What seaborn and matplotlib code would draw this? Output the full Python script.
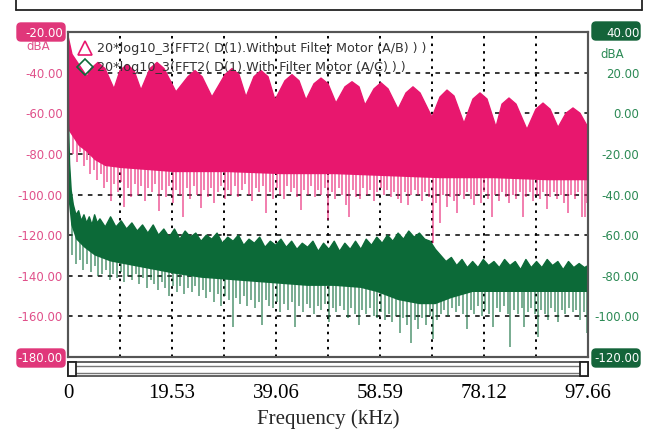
import numpy as np
import pandas as pd
import matplotlib
matplotlib.use("Agg")
import matplotlib.pyplot as plt
import seaborn as sns
from matplotlib.patches import Rectangle, FancyBboxPatch
from matplotlib.lines import Line2D
from matplotlib.transforms import IdentityTransform

# ---- data (kHz / dBA) ----
# pink: without filter (left axis), upper envelope with the scallops
pink_top_f = [0, 0.75, 3.57, 4.32, 5.63, 6.95, 8.64, 9.77, 11.08, 12.40, 13.71, 15.40,
              16.72, 18.03, 20.28, 22.54, 23.85, 25.17, 27.04, 29.49, 30.80, 32.12,
              33.43, 34.93, 36.25, 37.56, 38.88, 40.75, 42.07, 43.38, 44.70, 46.20,
              47.52, 48.83, 50.33, 52.02, 53.34, 54.65, 55.78, 57.47, 58.78, 60.10,
              61.98, 63.48, 64.79, 66.11, 68.36, 69.87, 71.18, 72.49, 74.37, 76.06,
              77.38, 78.69, 80.38, 81.51, 82.82, 84.14, 86.20, 87.89, 89.21, 90.53,
              92.03, 93.53, 94.84, 96.16, 97.66]
pink_top = [-22, -31, -42, -38, -35, -38, -48, -39, -36, -39, -48.6, -38,
            -35, -38, -49.5, -42, -39, -42, -52, -41, -38, -41,
            -52, -42, -39, -42, -53.5, -44, -41, -44, -53.5, -45.5,
            -42.7, -45.5, -55, -47, -44.5, -47, -56, -48, -45, -48,
            -58, -50, -47, -50, -62, -52, -48.6, -51.5, -65, -53,
            -50, -53, -66.8, -55.5, -52.5, -55.5, -68, -58, -55, -58,
            -67, -60, -57.4, -60, -67]
# pink: lower edge of the solid band
pink_low_f = [0, 1, 2, 3.5, 5, 7, 10, 15, 20, 30, 40, 50, 60, 70, 80, 90, 97.66]
pink_low = [-68, -72, -76, -79, -83, -86, -87, -88, -89, -89, -90, -90, -91, -92, -92, -93, -93]
# pink: downward spikes under the band
pink_spike_f = [0.9, 1.6, 2.3, 3.0, 3.6, 4.2, 4.9, 5.5, 6.2, 6.8, 7.4, 8.1, 8.7, 9.3, 10.0,
                10.6, 11.2, 11.9, 12.5, 13.2, 13.8, 14.5, 15.1, 15.8, 16.4, 17.1, 17.7,
                18.4, 19.0, 19.7, 20.3, 21.0, 21.6, 22.3, 22.9, 23.6, 24.2, 24.9, 25.5,
                26.2, 26.8, 27.5, 28.1, 28.8, 29.4, 30.1, 30.7, 31.4, 32.0, 32.7, 33.3,
                34.0, 34.6, 35.3, 35.9, 36.6, 37.2, 37.9, 38.5, 39.2, 39.8, 40.5, 41.1,
                41.8, 42.4, 43.1, 43.7, 44.4, 45.0, 45.7, 46.3, 47.0, 47.6, 48.3, 48.9,
                49.6, 50.2, 50.9, 51.5, 52.2, 52.8, 53.5, 54.1, 54.8, 55.4, 56.1, 56.7,
                57.4, 58.0, 58.7, 59.3, 60.0, 60.6, 61.3, 61.9, 62.6, 63.2, 63.9, 64.5,
                65.2, 65.8, 66.5, 67.1, 67.8, 68.5, 69.1, 69.8, 70.4, 71.1, 71.7, 72.4,
                73.0, 73.7, 74.3, 75.0, 75.6, 76.3, 76.9, 77.6, 78.2, 78.9, 79.6, 80.2,
                80.9, 81.5, 82.2, 82.8, 83.5, 84.1, 84.8, 85.4, 86.1, 86.7, 87.4, 88.0,
                88.7, 89.3, 90.0, 90.6, 91.3, 91.9, 92.6, 93.2, 93.9, 94.5, 95.2, 95.8,
                96.5, 97.1, 97.5]
pink_spike = [-80, -84, -79, -86, -83, -90, -88, -93, -90, -97, -94, -103, -95, -99, -94,
              -106, -97, -101, -95, -100, -96, -103, -97, -99, -95, -108, -98,
              -101, -96, -104, -98, -100, -111, -97, -102, -96, -100, -106.7, -98,
              -101, -97, -104, -99, -96, -102, -98, -100, -96, -101, -98, -95,
              -100, -103, -97, -99, -96, -109, -99, -102, -97, -100, -102, -96,
              -99, -97, -101, -107.5, -98, -100, -96, -101, -98, -100, -97, -112.6,
              -99, -102, -97, -100, -105, -111, -98, -101, -102, -97, -100, -98,
              -103, -99, -97, -100, -98, -101, -99, -102, -104, -99, -105, -100,
              -98, -100, -103, -99, -101, -124, -104, -114, -100, -106, -101, -103,
              -109, -100, -102, -99, -102, -105, -100, -104, -99, -102, -111, -100,
              -103, -99, -101, -104, -100, -102, -99, -111, -101, -99, -103, -100,
              -102, -99, -107, -101, -99, -102, -100, -104, -109, -100, -102, -99,
              -111, -111, -104]

# green: with filter (right axis), upper edge
green_top_f = [0, 0.1, 0.3, 0.6, 1.0, 1.5, 2.0, 2.5, 3.0, 3.5, 4.0, 4.5, 5.0, 5.5, 6.0,
               7, 8, 9, 10, 11, 12, 13, 14, 15, 16, 17, 18, 19, 20, 21, 22, 23, 24, 25,
               26, 27, 28, 29, 30, 31, 32, 33, 34, 35, 36, 37, 38, 39, 40, 41, 42, 43,
               44, 45, 46, 47, 48, 49, 50, 51, 52, 53, 54, 55, 56, 57, 58, 59, 60, 61,
               62, 63, 64, 65, 66, 67, 68, 69, 70, 71, 72, 73, 74, 75, 76, 77, 78, 79,
               80, 81, 82, 83, 84, 85, 86, 87, 88, 89, 90, 91, 92, 93, 94, 95, 96, 97,
               97.66]
green_top = [40, -5, -25, -38, -45, -50, -48, -53, -50, -54, -51, -55, -50, -54, -52,
             -56, -51, -56, -53, -57, -54, -58, -55, -59, -55, -60, -57, -61, -57, -62,
             -58, -61, -59, -63, -60, -62, -59, -64, -61, -63, -60, -65, -62, -64, -61,
             -66, -63, -65, -62, -66, -63, -67, -64, -66, -63, -68, -64, -67, -63, -68,
             -64, -67, -63, -67, -62, -65, -61, -64, -60, -63, -59, -62, -58, -61, -59,
             -62, -63, -67, -70, -73, -71, -75, -72, -76, -73, -76, -72, -75, -73, -76,
             -72, -75, -73, -77, -72, -76, -73, -76, -72, -75, -73, -77, -73, -76, -74,
             -76, -75]
green_low_f = [0, 0.6, 1.5, 3, 5, 8, 12, 16, 20, 25, 30, 35, 40, 45, 50, 55, 58, 62, 66,
               69, 72, 76, 80, 90, 97.66]
green_low = [-40, -55, -62, -66, -70, -73, -75, -77, -79, -81, -82, -83, -84, -85, -85,
             -86, -88, -92, -94, -94, -91, -88, -88, -88, -88]
green_spike_f = [0.8, 1.5, 2.2, 2.9, 3.6, 4.3, 5.0, 5.7, 6.4, 7.1, 7.8, 8.5, 9.2, 9.9,
                 10.6, 11.3, 12.0, 12.7, 13.4, 14.1, 14.8, 15.5, 16.2, 16.9, 17.6, 18.3,
                 19.0, 19.7, 20.4, 21.1, 21.8, 22.5, 23.2, 23.9, 24.6, 25.3, 26.0, 26.7,
                 27.4, 28.1, 28.8, 29.5, 30.2, 30.9, 31.6, 32.3, 33.0, 33.7, 34.4, 35.1,
                 35.8, 36.4, 37.1, 37.8, 38.5, 39.2, 39.9, 40.6, 41.3, 42.0, 42.7, 43.4,
                 44.1, 44.8, 45.5, 46.2, 46.9, 47.6, 48.3, 49.0, 49.7, 50.4, 51.1, 51.8,
                 52.5, 53.2, 53.9, 54.6, 55.3, 56.0, 56.7, 57.4, 58.1, 58.8, 59.5, 60.2,
                 60.9, 61.6, 62.3, 63.0, 63.7, 64.4, 65.1, 65.8, 66.5, 67.2, 67.9, 68.6,
                 69.3, 70.0, 70.7, 71.4, 72.1, 72.8, 73.5, 74.2, 74.9, 75.6, 76.3, 77.0,
                 77.7, 78.4, 79.1, 79.8, 80.5, 81.2, 81.9, 82.6, 83.1, 83.8, 84.5, 85.2,
                 85.6, 86.3, 87.0, 87.7, 88.2, 88.9, 89.6, 90.1, 90.8, 91.5, 92.0, 92.7,
                 93.4, 94.1, 94.8, 95.5, 96.2, 96.9, 97.5]
green_spike = [-70, -74, -72, -77, -74, -78, -75, -80, -79, -77, -82, -79, -81, -78,
               -83, -80, -82, -79, -84, -81, -86, -82, -84, -87, -83, -86,
               -90, -85, -88, -85, -89, -86, -88, -85, -90, -87, -91, -88,
               -93, -89, -95, -90, -92, -105, -91, -94, -90, -95, -92, -96,
               -93, -104, -92, -95, -96, -93, -98, -94, -97, -93, -105, -95,
               -98, -94, -96, -99, -95, -97, -94, -103, -96, -98, -95, -97,
               -101, -96, -99, -104, -97, -99, -96, -100, -101, -98, -102, -99,
               -103, -100, -108, -101, -104, -113, -102, -106, -101, -104, -100, -111,
               -102, -99, -97, -100, -96, -98, -95, -99, -106, -97, -99, -95,
               -100, -97, -99, -105, -96, -98, -95, -99, -115, -97, -99, -96,
               -105, -98, -96, -99, -110, -97, -99, -102, -96, -98, -103, -97,
               -99, -96, -98, -97, -102, -98, -108]

x_ticks = [0, 19.53, 39.06, 58.59, 78.12, 97.66]
x_labels = ["0", "19.53", "39.06", "58.59", "78.12", "97.66"]
x_grid = [9.766, 19.53, 29.30, 39.06, 48.83, 58.59, 68.36, 78.12, 87.89]
left_ticks = list(range(-180, -19, 20))
right_ticks = list(range(-120, 41, 20))
labels = ["20*log10_3(FFT2( D(1).Without Filter Motor (A/B) ) )",
          "20*log10_3(FFT2( D(1).With Filter Motor (A/C) ) )"]

pink = "#E8176E"
pink_text = "#E0508A"
green = "#0C6A38"
green_text = "#2C8A55"

sns.set_style("white")
plt.rcParams["font.family"] = ["DejaVu Sans"]

W, H = 647, 443
rect = [68 / W, 1 - 357 / H, 520 / W, 325 / H]
fig = plt.figure(figsize=(W / 100, H / 100), dpi=100)

# background axes that only holds the dotted grid
axg = fig.add_axes(rect, zorder=0)
axg.set_xlim(0, 97.66)
axg.set_ylim(-180, -20)
for v in left_ticks[1:-1]:
    axg.axhline(v, color="k", ls=(0, (3, 3.5)), lw=1.1)
for v in x_grid:
    axg.axvline(v, color="k", ls=(0, (1.3, 2.6)), lw=1.4)
axg.set_xticks([])
axg.set_yticks([])
for s in axg.spines.values():
    s.set_visible(False)

# data axes on top
ax = fig.add_axes(rect, zorder=1)
ax.patch.set_visible(False)
ax2 = ax.twinx()
ax.grid(False)
ax2.grid(False)

# Pink series (left axis)
ax.vlines(pink_spike_f, pink_spike, np.interp(pink_spike_f, pink_low_f, pink_low) + 3,
          color=pink, alpha=0.7, lw=1.1, zorder=1.9)
ax.fill(list(pink_top_f) + pink_low_f[::-1], list(pink_top) + pink_low[::-1],
        color=pink, lw=0, zorder=2)
sns.lineplot(x=pink_top_f, y=pink_top, ax=ax, color=pink, lw=1, zorder=2.1)

# Green series (right axis)
ax2.vlines(green_spike_f, green_spike, np.interp(green_spike_f, green_low_f, green_low) + 3,
           color=green, alpha=0.7, lw=1.1, zorder=1.9)
ax2.fill(list(green_top_f) + green_low_f[::-1], list(green_top) + green_low[::-1],
         color=green, lw=0, zorder=2)
sns.lineplot(x=green_top_f, y=green_top, ax=ax2, color=green, lw=1, zorder=2.1)

# Axes limits / ticks
ax.set_xlim(0, 97.66)
ax.set_ylim(-180, -20)
ax2.set_ylim(-120, 40)
ax.set_xticks(x_ticks)
ax.set_xticklabels(x_labels, fontfamily="Liberation Serif", fontsize=15)
ax.set_yticks(left_ticks)
ax.set_yticklabels([f"{v:.2f}" for v in left_ticks], fontsize=8.5, color=pink_text)
ax2.set_yticks(right_ticks)
ax2.set_yticklabels([f"{v:.2f}" for v in right_ticks], fontsize=8.5, color=green_text)
ax.tick_params(axis="x", length=0, pad=19.5, labelcolor="black")
ax.tick_params(axis="y", length=0, pad=3.6)
ax2.tick_params(axis="y", length=0, pad=37)
for t in ax2.get_yticklabels():
    t.set_horizontalalignment("right")
ax.set_xlabel("Frequency (kHz)", fontfamily="Liberation Serif", fontsize=15, labelpad=4.5)
ax.set_ylabel("")
ax2.set_ylabel("")
for a in (ax, ax2):
    for s in a.spines.values():
        s.set_color("#555555")
        s.set_linewidth(1.5)

# boxed end labels
ax.get_yticklabels()[0].set_color("white")
ax.get_yticklabels()[-1].set_color("white")
ax2.get_yticklabels()[0].set_color("white")
ax2.get_yticklabels()[-1].set_color("white")
for x0, yc, c in [(17, 32, "#E0377A"), (17, 358, "#E0377A"), (592, 31, "#14643A"), (592, 358, "#14643A")]:
    fig.patches.append(FancyBboxPatch((x0, H - yc - 9), 48, 18, boxstyle="round,pad=0,rounding_size=4",
                                      fc=c, ec=c, transform=IdentityTransform(), figure=fig, zorder=-1))
fig.text(38 / W, 1 - 46 / H, "dBA", color=pink_text, fontsize=8.5, ha="center", va="center")
fig.text(612 / W, 1 - 54 / H, "dBA", color=green_text, fontsize=8.5, ha="center", va="center")

# legend
handles = [Line2D([], [], ls="none", marker="^", ms=10, mfc="none", mec=pink, mew=1.2),
           Line2D([], [], ls="none", marker="D", ms=8, mfc="none", mec=green, mew=1.2)]
ax2.legend(handles, labels, loc="upper left", bbox_to_anchor=(0.01, 0.985), frameon=False,
           fontsize=9.2, labelcolor="#333333", handlelength=1.0, handletextpad=0.45,
           labelspacing=0.5, borderaxespad=0)

# scrollbar under the plot
sb = [Rectangle((68, H - 376), 520, 14, fc="white", ec="#555555", lw=1.3),
      Rectangle((70, H - 372.5), 516, 7, fc="white", ec="#777777", lw=1.0),
      Rectangle((68, H - 376), 8, 14, fc="white", ec="#222222", lw=1.3),
      Rectangle((580, H - 376), 8, 14, fc="white", ec="#222222", lw=1.3)]
for r in sb:
    r.set_transform(IdentityTransform())
    fig.patches.append(r)

# outer frame
for xs, ys in [([15.5, 15.5], [H, H - 10]), ([15.5, 642], [H - 10, H - 10]), ([642, 642], [H - 10, H])]:
    fig.lines.append(Line2D(xs, ys, color="#222222", lw=1.3, transform=IdentityTransform()))

plt.savefig("out.png", dpi=100)
